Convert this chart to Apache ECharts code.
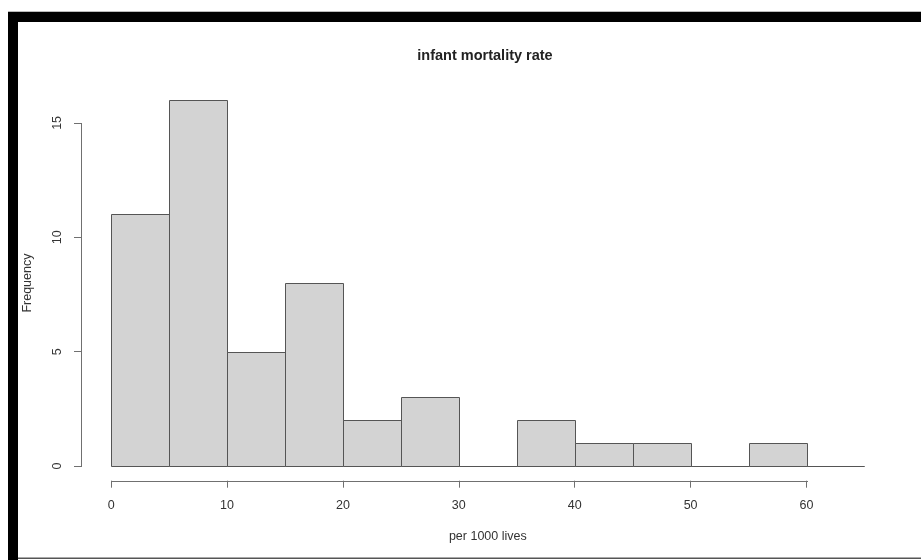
<!DOCTYPE html>
<html>
<head>
<meta charset="utf-8">
<title>infant mortality rate</title>
<script src="https://cdn.jsdelivr.net/npm/echarts@6/dist/echarts.min.js"></script>
<style>
  html, body { margin: 0; padding: 0; background: #ffffff; }
  #chart { width: 921px; height: 560px; }
</style>
</head>
<body>
<div id="chart"></div>
<script>
// Histogram bins (per 1000 lives) and their frequencies
const breaks = [0, 5, 10, 15, 20, 25, 30, 35, 40, 45, 50, 55, 60, 65];
const counts = [11, 16, 5, 8, 2, 3, 0, 2, 1, 1, 0, 1, 0];
const xTicks = [0, 10, 20, 30, 40, 50, 60];
const yTicks = [0, 5, 10, 15];

const titleText = 'infant mortality rate';
const xTitle = 'per 1000 lives';
const yTitle = 'Frequency';

// R-style plot ranges: data range padded by 4% on each side
const xMin = breaks[0], xMax = breaks[breaks.length - 1];
const yMax = Math.max(...counts);
const xPad = (xMax - xMin) * 0.04;
const yPad = yMax * 0.04;

const FONT = '"Liberation Sans", Arial, Helvetica, sans-serif';
const AXIS_COLOR = '#707070';
const TEXT_COLOR = '#333333';

const bins = counts.map((c, i) => [breaks[i], breaks[i + 1], c]);

const chart = echarts.init(document.getElementById('chart'), null, { renderer: 'canvas' });

function crisp(v) { return Math.round(v) + 0.5; }

chart.setOption({
  backgroundColor: '#ffffff',
  animation: false,
  grid: { left: 81, right: 26.4, top: 85.4, bottom: 79.3, containLabel: false },
  xAxis: {
    type: 'value',
    min: xMin - xPad,
    max: xMax + xPad,
    splitLine: { show: false },
    axisLine: { show: false, onZero: false },
    axisTick: {
      show: true, customValues: xTicks, length: 7,
      lineStyle: { color: AXIS_COLOR, width: 1 }
    },
    axisLabel: {
      show: true, customValues: xTicks, margin: 18,
      color: TEXT_COLOR, fontFamily: FONT, fontSize: 12.5
    },
    name: xTitle,
    nameLocation: 'middle',
    nameGap: 49,
    nameTextStyle: { color: TEXT_COLOR, fontFamily: FONT, fontSize: 12.5 }
  },
  yAxis: {
    type: 'value',
    min: -yPad,
    max: yMax + yPad,
    splitLine: { show: false },
    axisLine: { show: false, onZero: false },
    axisTick: {
      show: true, customValues: yTicks, length: 7,
      lineStyle: { color: AXIS_COLOR, width: 1 }
    },
    axisLabel: {
      show: true, customValues: yTicks, margin: 17, rotate: 90,
      color: TEXT_COLOR, fontFamily: FONT, fontSize: 12.5
    },
    name: yTitle,
    nameLocation: 'middle',
    nameGap: 47,
    nameTextStyle: { color: TEXT_COLOR, fontFamily: FONT, fontSize: 12.5 }
  },
  series: [
    {
      // histogram bars
      type: 'custom',
      data: bins,
      clip: false,
      encode: { x: [0, 1], y: 2 },
      renderItem: function (params, api) {
        const p0 = api.coord([api.value(0), api.value(2)]);
        const p1 = api.coord([api.value(1), 0]);
        const x0 = crisp(p0[0]), x1 = crisp(p1[0]);
        const y0 = crisp(p0[1]), y1 = crisp(p1[1]);
        return {
          type: 'rect',
          shape: { x: x0, y: y0, width: x1 - x0, height: y1 - y0 },
          style: { fill: '#d3d3d3', stroke: '#555555', lineWidth: 1 }
        };
      }
    },
    {
      // axis lines spanning the tick range, drawn at the plot edges
      type: 'custom',
      data: [0],
      clip: false,
      silent: true,
      renderItem: function (params, api) {
        const xa = api.coord([xTicks[0], -yPad]);
        const xb = api.coord([xTicks[xTicks.length - 1], -yPad]);
        const ya = api.coord([xMin - xPad, yTicks[0]]);
        const yb = api.coord([xMin - xPad, yTicks[yTicks.length - 1]]);
        const st = { stroke: AXIS_COLOR, lineWidth: 1, fill: null };
        return {
          type: 'group',
          children: [
            { type: 'line', shape: { x1: crisp(xa[0]) - 0.5, y1: crisp(xa[1]), x2: crisp(xb[0]) + 0.5, y2: crisp(xb[1]) }, style: st },
            { type: 'line', shape: { x1: crisp(ya[0]), y1: crisp(ya[1]) + 0.5, x2: crisp(yb[0]), y2: crisp(yb[1]) - 0.5 }, style: st }
          ]
        };
      }
    }
  ],
  graphic: [
    { type: 'rect', shape: { x: 8, y: 11, width: 913, height: 1 }, style: { fill: '#bbbbbb' } },
    { type: 'rect', shape: { x: 8, y: 12, width: 913, height: 10 }, style: { fill: '#000000' } },
    { type: 'rect', shape: { x: 8, y: 12, width: 10, height: 548 }, style: { fill: '#000000' } },
    { type: 'rect', shape: { x: 18, y: 557.5, width: 903, height: 1.5 }, style: { fill: '#555555' } },
    {
      type: 'text',
      x: 485, y: 56,
      style: {
        text: titleText,
        font: 'bold 14.5px ' + FONT,
        fill: '#222222',
        textAlign: 'center',
        textVerticalAlign: 'middle'
      }
    }
  ]
});
</script>
</body>
</html>
